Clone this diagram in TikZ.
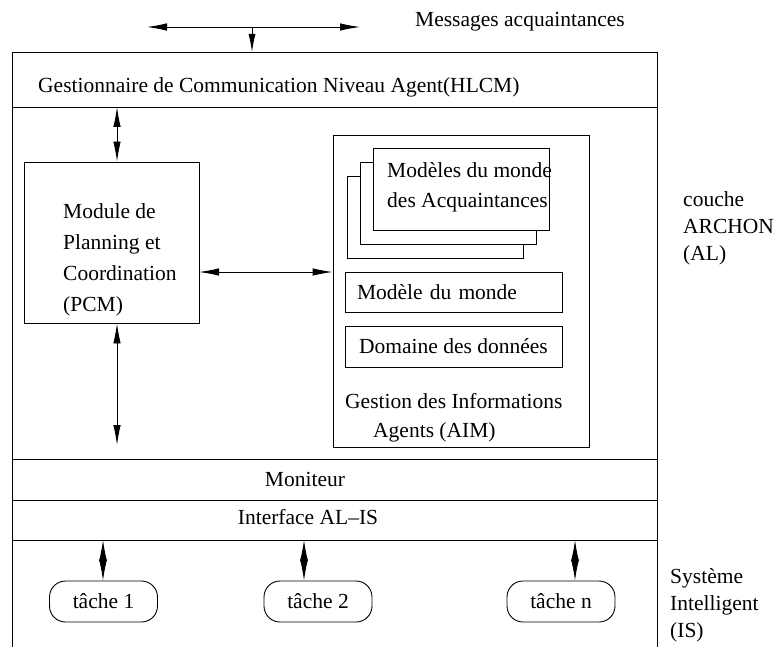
\documentclass[tikz,border=0pt]{standalone}
\usepackage{fontspec}
\setmainfont{Liberation Serif}
\usetikzlibrary{arrows.meta}

\tikzset{
	lbl/.style={font=\fontsize{21.5}{30}\selectfont, inner sep=0pt},
	boite/.style={draw, line width=0.9pt, font=\fontsize{21.5}{30}\selectfont},
	tache/.style={boite, rounded corners=16pt, minimum width=108pt, minimum height=41pt},
	fl/.style={line width=0.9pt, arrows={Latex[length=20pt,width=7.5pt]-Latex[length=20pt,width=7.5pt]}},
	diam/.style={line width=0.9pt, arrows={Latex[length=21pt,width=8pt]-Latex[length=21pt,width=8pt]}},
	fd/.style={line width=0.9pt, arrows={-Latex[length=18pt,width=7pt]}}
}

\begin{document}
\begin{tikzpicture}[x=1pt,y=-1pt]
\useasboundingbox (0,0) rectangle (775,647);

% Cadre et bandes
	\draw[line width=0.9pt] (12,647) -- (12,52) -- (657,52) -- (657,647);
	\foreach \y in {107,459,500,540}
		\draw[line width=0.9pt] (12,\y) -- (657,\y);

\node[lbl, anchor=base west] (msg) at (415,27) {Messages acquaintances};
\node[lbl, anchor=base west] (hlcm) at (38,93) {Gestionnaire de Communication Niveau Agent(HLCM)};
\node[lbl] (mon) at (305,479.5) {Moniteur};
\node[lbl] (inter) at (308,517) {Interface AL--IS};

% PCM
\node[boite, minimum width=175pt, minimum height=161pt] (pcm) at (111.5,242.5) {};
\node[lbl, anchor=north west, align=left, font=\fontsize{21.5}{31}\selectfont] (pcmtxt) at (63,203) {Module de\\Planning et\\Coordination\\(PCM)};

% AIM
\node[boite, minimum width=256pt, minimum height=312pt] (aim) at (461,291) {};
	\foreach \i in {2,1}
		\draw[line width=0.9pt, fill=white] (373-13*\i,148+14*\i) rectangle ++(176,82);
\node[boite, fill=white, minimum width=176pt, minimum height=82pt] (acq) at (461,189) {};
\node[lbl, anchor=north west, align=left] (acqtxt) at (387,162) {Modèles du monde\\des Acquaintances};
\node[boite, minimum width=217pt, minimum height=40pt, text width=193pt, align=left] (modele) at (453.5,292) {Modèle du monde};
\node[boite, minimum width=217pt, minimum height=41pt] (domaine) at (453.5,346.5) {Domaine des données};
\node[lbl, anchor=north west, align=left, font=\fontsize{21.5}{29}\selectfont] (gestion) at (345,393) {Gestion des Informations\\\hspace*{28pt}Agents (AIM)};

% Taches
	\foreach \nom/\x/\lab in {t1/103.5/1, t2/318/2, tn/561/n}
		\node[tache] (\nom) at (\x,601.5) {tâche \lab};
	\foreach \nom/\x in {t1/103, t2/304, tn/575}{
		\coordinate (a\nom) at (\x,540);
		\draw[diam] (a\nom) -- (a\nom |- \nom.north);
	}

% Fleches
\coordinate (mg) at (147,27);
\coordinate (md) at (360,27);
\draw[fl] (mg) -- (md);
\coordinate (mc) at (252,27);
\coordinate (hc) at (252,52);
\draw[fd] (mc) -- (hc);
\coordinate (h1) at (117,107);
\draw[fl] (h1) -- (h1 |- pcm.north);
\coordinate (p1) at (117,445);
\draw[fl] (p1 |- pcm.south) -- (p1);
\coordinate (pa) at (199,272);
\draw[fl] (pa) -- (pa -| aim.west);

% Couches
\node[lbl, anchor=north west, align=left, font=\fontsize{21.5}{27}\selectfont] (al) at (683,191) {couche\\ARCHON\\(AL)};
\node[lbl, anchor=north west, align=left, font=\fontsize{21.5}{27}\selectfont] (is) at (670,568) {Système\\Intelligent\\(IS)};
\end{tikzpicture}
\end{document}
